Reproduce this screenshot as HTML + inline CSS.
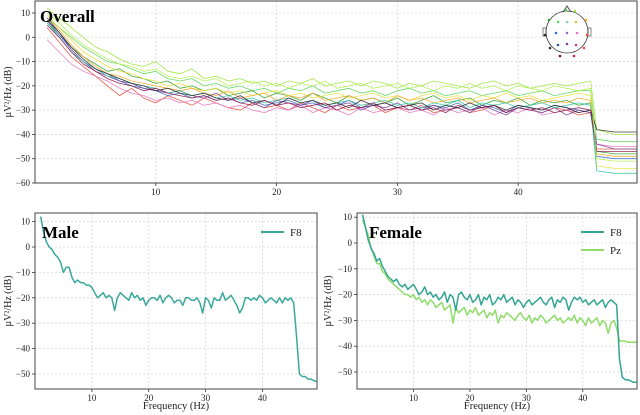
<!DOCTYPE html>
<html><head><meta charset="utf-8">
<style>
html,body{margin:0;padding:0;background:#fff;}
svg{display:block;font-family:"Liberation Serif",serif;}
</style></head>
<body>
<svg id="fig" width="640" height="415" viewBox="0 0 640 415" xmlns="http://www.w3.org/2000/svg"></svg>
<script>
// ---------- data ----------
const overallChannels = ["Fp1","Fp2","F7","F3","Fz","F4","F8","T7","C3","Cz","C4","T8","P7"];
const overallColors = ["#9be33a","#5cd65c","#2ca02c","#e8e03a","#f5a623","#e74c3c","#e377c2","#3b6fc9","#7b3fa0","#33c5a8","#2b2b2b","#8b1a4a","#b4f050"];
const overallFreqs = [1,2,3,4,5,6,7,8,9,10,11,12,13,14,15,16,17,18,19,20,21,22,23,24,25,26,27,28,29,30,31,32,33,34,35,36,37,38,39,40,41,42,43,44,45,46,46.5,48,49.8];
const chLime = [12,8,4,0,-4,-6,-9,-11,-12,-10,-14,-15,-13,-17,-16,-18,-17,-19,-18,-20,-18,-19,-17,-20,-19,-18,-20,-18,-19,-21,-19,-20,-18,-19,-20,-21,-19,-18,-20,-19,-21,-20,-19,-20,-19,-18,-38,-40,-40];
const chGreen = [8,4,0,-4,-7,-10,-11,-13,-15,-14,-17,-18,-17,-20,-19,-21,-20,-22,-21,-23,-21,-22,-20,-23,-22,-21,-23,-22,-24,-22,-21,-23,-22,-24,-23,-22,-24,-23,-22,-24,-23,-22,-24,-23,-22,-22,-42,-43,-43];
const chDarkGreen = [6,1,-4,-8,-11,-14,-13,-16,-17,-19,-18,-21,-20,-22,-21,-24,-23,-22,-25,-23,-24,-26,-23,-25,-27,-24,-26,-25,-27,-25,-28,-26,-24,-27,-26,-25,-28,-26,-27,-25,-28,-26,-27,-26,-28,-27,-47,-48,-48];
const chYellow = [9,4,-1,-6,-9,-12,-14,-15,-17,-18,-20,-19,-21,-22,-21,-23,-22,-24,-23,-22,-24,-23,-25,-24,-23,-25,-24,-23,-25,-24,-26,-24,-23,-25,-24,-26,-24,-25,-23,-25,-24,-26,-25,-24,-23,-24,-53,-54,-54];
const chOrange = [8,3,-3,-8,-12,-15,-16,-18,-19,-20,-21,-22,-21,-23,-24,-22,-25,-24,-23,-26,-24,-25,-23,-26,-25,-24,-26,-25,-27,-24,-26,-25,-27,-26,-25,-27,-26,-25,-27,-26,-25,-27,-26,-27,-25,-26,-48,-49,-49];
const chRed = [4,-2,-8,-12,-16,-20,-24,-21,-25,-27,-24,-26,-28,-25,-27,-29,-30,-27,-29,-28,-30,-27,-29,-31,-28,-30,-29,-28,-31,-29,-30,-28,-31,-30,-29,-31,-30,-28,-31,-29,-30,-31,-29,-30,-32,-31,-46,-46,-46];
const chPink = [-1,-6,-11,-14,-16,-18,-21,-23,-24,-26,-25,-27,-26,-28,-27,-29,-28,-30,-31,-29,-30,-28,-31,-29,-30,-32,-29,-31,-30,-29,-31,-30,-32,-29,-31,-30,-29,-32,-30,-31,-29,-32,-31,-30,-31,-30,-44,-45,-45];
const chBlue = [7,1,-5,-10,-13,-15,-18,-20,-21,-22,-24,-23,-25,-24,-26,-25,-27,-26,-28,-27,-26,-28,-27,-29,-28,-26,-29,-28,-27,-29,-28,-30,-28,-29,-27,-30,-28,-29,-31,-28,-29,-30,-28,-29,-30,-31,-49,-50,-50];
const chPurple = [8,2,-5,-10,-14,-16,-18,-19,-21,-22,-23,-22,-24,-25,-23,-26,-25,-27,-29,-26,-27,-28,-26,-29,-28,-27,-30,-28,-29,-27,-30,-29,-28,-30,-29,-31,-28,-30,-32,-29,-30,-31,-29,-32,-30,-31,-44,-46,-46];
const chTeal = [6,0,-6,-10,-13,-16,-17,-19,-20,-21,-23,-22,-24,-23,-25,-24,-26,-25,-27,-26,-25,-27,-26,-28,-27,-26,-28,-27,-26,-28,-27,-29,-27,-28,-26,-29,-27,-28,-27,-29,-28,-27,-29,-28,-27,-28,-55,-56,-56];
const chBlack = [7,2,-4,-9,-13,-15,-17,-19,-20,-22,-21,-23,-24,-23,-25,-26,-24,-27,-26,-28,-25,-27,-26,-28,-27,-29,-26,-28,-27,-29,-28,-27,-30,-28,-29,-27,-29,-28,-30,-28,-29,-30,-28,-29,-31,-30,-38,-39,-39];
const chMaroon = [5,0,-6,-11,-14,-17,-19,-20,-22,-21,-23,-24,-25,-24,-26,-25,-27,-28,-26,-28,-27,-29,-28,-27,-30,-28,-29,-27,-30,-29,-28,-30,-29,-31,-28,-30,-29,-28,-31,-29,-30,-29,-31,-30,-29,-30,-47,-47,-47];
const chLightLime = [10,6,1,-3,-6,-9,-11,-12,-14,-13,-16,-17,-16,-18,-17,-20,-19,-18,-20,-19,-21,-19,-20,-18,-21,-20,-19,-21,-20,-19,-21,-20,-22,-20,-21,-19,-21,-20,-22,-20,-21,-22,-20,-21,-22,-21,-50,-51,-51];
const overallSeries = [chLime,chGreen,chDarkGreen,chYellow,chOrange,chRed,chPink,chBlue,chPurple,chTeal,chBlack,chMaroon,chLightLime];

const bottomFreqs = [1,1.5,2,2.5,3,3.5,4,4.5,5,5.5,6,6.5,7,7.5,8,8.5,9,9.5,10,10.5,11,11.5,12,12.5,13,13.5,14,14.5,15,15.5,16,16.5,17,17.5,18,18.5,19,19.5,20,20.5,21,21.5,22,22.5,23,23.5,24,24.5,25,25.5,26,26.5,27,27.5,28,28.5,29,29.5,30,30.5,31,31.5,32,32.5,33,33.5,34,34.5,35,35.5,36,36.5,37,37.5,38,38.5,39,39.5,40,40.5,41,41.5,42,42.5,43,43.5,44,44.5,45,45.5,46,46.5,47,47.5,48,48.5,49,49.5];
const maleF8 = [12,6,2,0,-1,-3,-4,-6,-10,-8,-8,-12,-14,-13,-14,-14,-15,-15,-16,-18,-20,-19,-18,-20,-19,-20,-25,-20,-18,-19,-20,-21,-18,-20,-19,-21,-20,-23,-21,-20,-20,-21,-19,-22,-20,-19,-20,-22,-21,-21,-23,-20,-20,-21,-21,-20,-22,-26,-20,-21,-24,-20,-21,-21,-18,-21,-20,-19,-21,-23,-26,-24,-20,-20,-21,-20,-21,-19,-20,-22,-21,-20,-21,-22,-20,-22,-20,-21,-20,-22,-35,-50,-51,-51,-52,-52,-52.5,-53];
const femaleF8 = [11,6,1,-2,-4,-7,-6,-9,-11,-13,-14,-15,-14,-16,-17,-16,-18,-17,-16,-18,-20,-19,-17,-20,-19,-21,-20,-22,-21,-19,-23,-20,-21,-26,-20,-19,-21,-22,-20,-23,-22,-20,-24,-21,-22,-20,-24,-23,-21,-22,-20,-23,-22,-21,-24,-22,-23,-25,-23,-22,-24,-23,-22,-21,-23,-24,-22,-21,-25,-22,-23,-21,-22,-26,-23,-21,-22,-21,-23,-22,-24,-23,-22,-24,-23,-22,-25,-23,-22,-23,-24,-45,-52,-53,-53,-53.5,-54,-54];
const femalePz = [9,6,3,-2,-5,-8,-8,-11,-12,-14,-15,-16,-17,-18,-19,-20,-20,-21,-20,-22,-21,-23,-22,-24,-22,-23,-25,-24,-23,-26,-25,-24,-31,-25,-27,-26,-25,-28,-26,-27,-25,-28,-27,-26,-29,-27,-28,-26,-31,-28,-29,-27,-28,-29,-30,-28,-27,-29,-30,-28,-31,-29,-30,-28,-29,-31,-30,-29,-28,-30,-29,-31,-30,-29,-30,-28,-31,-29,-30,-32,-29,-31,-30,-29,-32,-30,-31,-35,-31,-30,-33,-38,-38,-38,-38.5,-38.5,-38.5,-38.5];

const xTicksTop = [10,20,30,40];
const yTicksTop = [10,0,-10,-20,-30,-40,-50,-60];
const xTicksBottom = [10,20,30,40];
const yTicksBottom = [10,0,-10,-20,-30,-40,-50];

// ---------- drawing ----------
const NS = "http://www.w3.org/2000/svg";
const svg = document.getElementById('fig');
function mk(tag, attrs, parent){
  const e = document.createElementNS(NS, tag);
  for (const k in attrs) e.setAttribute(k, attrs[k]);
  (parent||svg).appendChild(e);
  return e;
}
function makeAxis(d0,d1,r0,r1){ return v => r0 + (v-d0)/(d1-d0)*(r1-r0); }

function panel(cfg){
  const g = mk('g', {});
  
  
  const {L,R,T,B} = cfg;
  const x = makeAxis(cfg.fx0, cfg.fx1, L, R);
  const y = makeAxis(cfg.yv0, cfg.yv1, cfg.yp0, cfg.yp1);
  const cid = 'clip-' + cfg.name;
  const cp = mk('clipPath', {id: cid}, g);
  mk('rect', {x:L, y:T, width:R-L, height:B-T}, cp);
  cfg.xticks.forEach(t => {
    const gl = mk('line', {x1:x(t), x2:x(t), y1:T, y2:B, stroke:'#d8d8d8', 'stroke-width':0.8, 'stroke-dasharray':'2,2'}, g);
    
    
    const tk = mk('line', {x1:x(t), x2:x(t), y1:B, y2:B+3, stroke:'#333', 'stroke-width':0.8}, g);
    
    
    const tl = mk('text', {x:x(t), y:B+12, 'text-anchor':'middle', 'font-size':9, fill:'#222'}, g);
    
    
    tl.textContent = t;
  });
  cfg.yticks.forEach(t => {
    const gl = mk('line', {x1:L, x2:R, y1:y(t), y2:y(t), stroke:'#d8d8d8', 'stroke-width':0.8, 'stroke-dasharray':'2,2'}, g);
    
    
    const tk = mk('line', {x1:L-3, x2:L, y1:y(t), y2:y(t), stroke:'#333', 'stroke-width':0.8}, g);
    
    
    const tl = mk('text', {x:L-5, y:y(t)+3, 'text-anchor':'end', 'font-size':9, fill:'#222'}, g);
    
    
    tl.textContent = t < 0 ? '\u2212' + (-t) : t;
  });
  const sg = mk('g', {'clip-path':'url(#'+cid+')'}, g);
  cfg.series.forEach((s,i) => {
    const d = s.vals.map((v,j) => (j?'L':'M') + x(cfg.freqs[j]).toFixed(1) + ',' + y(v).toFixed(1)).join('');
    const p = mk('path', {d, fill:'none', stroke:s.color, 'stroke-width':s.w, 'stroke-opacity':s.op||1, 'stroke-linejoin':'round'}, sg);
    
    
  });
  const fr = mk('rect', {x:L, y:T, width:R-L, height:B-T, fill:'none', stroke:'#444', 'stroke-width':1}, g);
  
  
  const tt = mk('text', {x:L+cfg.titleDx, y:T+cfg.titleDy, 'font-size':17, 'font-weight':'bold', fill:'#000'}, g);
  
  
  tt.textContent = cfg.title;
  const cy = (T+B)/2;
  const yl = mk('text', {x:cfg.ylabX, y:cy, transform:'rotate(-90 '+(cfg.ylabX)+' '+cy+')', 'text-anchor':'middle', 'font-size':10, fill:'#222'}, g);
  
  
  yl.textContent = '\u00b5V\u00b2/Hz (dB)';
  if (cfg.xlabel){
    const xl = mk('text', {x:(L+R)/2, y:B+20, 'text-anchor':'middle', 'font-size':10.5, fill:'#222'}, g);
    
    
    xl.textContent = cfg.xlabel;
  }
  if (cfg.legend){
    cfg.legend.forEach((s,i) => {
      const ly = T + 19 + i*18;
      const lg = mk('g', {}, g);
      
      
      mk('line', {x1:R-56, x2:R-33, y1:ly, y2:ly, stroke:s.color, 'stroke-width':2}, lg);
      const lt = mk('text', {x:R-27, y:ly+4, 'font-size':11, fill:'#222'}, lg);
      lt.textContent = s.label;
    });
  }
  return g;
}

panel({name:'overall-panel', L:35, R:637, T:1, B:183, fx0:0, fx1:49.84, yv0:10, yv1:-60, yp0:13, yp1:183,
  xticks:xTicksTop, yticks:yTicksTop, freqs:overallFreqs, title:'Overall', titleDx:5, titleDy:21, ylabX:11,
  series: overallSeries.map((v,i)=>({vals:v, color:overallColors[i], w:0.8, op:0.9, label:overallChannels[i]}))});

panel({name:'male-panel', L:35, R:317, T:213, B:389, fx0:0, fx1:49.6, yv0:0, yv1:-50, yp0:247, yp1:374,
  xticks:xTicksBottom, yticks:yTicksBottom, freqs:bottomFreqs, title:'Male', titleDx:7, titleDy:25, ylabX:11,
  xlabel:'Frequency (Hz)',
  series:[{vals:maleF8, color:'#3aa89c', w:1.5, label:'F8'}],
  legend:[{label:'F8', color:'#3aa89c'}]});

panel({name:'female-panel', L:357, R:637, T:213, B:389, fx0:0, fx1:49.6, yv0:0, yv1:-50, yp0:243, yp1:372,
  xticks:xTicksBottom, yticks:yTicksBottom, freqs:bottomFreqs, title:'Female', titleDx:12, titleDy:25, ylabX:331,
  xlabel:'Frequency (Hz)',
  series:[{vals:femalePz, color:'#8fdc6a', w:1.5, label:'Pz'},{vals:femaleF8, color:'#33a593', w:1.5, label:'F8'}],
  legend:[{label:'F8', color:'#33a593'},{label:'Pz', color:'#8fdc6a'}]});

const head = mk('g', {});


mk('circle', {cx:567, cy:32, r:21, fill:'#fff', stroke:'#333', 'stroke-width':0.8}, head);
mk('path', {d:'M563,12 L567,6 L571,12', fill:'none', stroke:'#333', 'stroke-width':0.8}, head);
mk('rect', {x:543, y:28, width:3, height:8, fill:'none', stroke:'#333', 'stroke-width':0.6}, head);
mk('rect', {x:588, y:28, width:3, height:8, fill:'none', stroke:'#333', 'stroke-width':0.6}, head);
const electrodeX = [566,575,549,558,567,576,586,556,567,577,545,587,558,567,576,550,584,560,574];
const electrodeY = [10,11,20,22,22,22,20,33,33,33,35,35,45,44,45,48,48,56,56];
const electrodeC = ["#5cd65c","#9be33a","#2ca02c","#5cd65c","#7fd6b0","#c8c83a","#f5a623","#3b6fc9","#9966cc","#e377c2","#2b2b2b","#e74c3c","#3b4fa0","#7b3fa0","#c04090","#2b2b2b","#e74c3c","#6b1030","#c0204a"];
electrodeX.forEach((ex,i)=>{
  const c = mk('circle', {cx:ex, cy:electrodeY[i], r:1.3, fill:electrodeC[i]}, head);
  
  
});
</script>
</body></html>
